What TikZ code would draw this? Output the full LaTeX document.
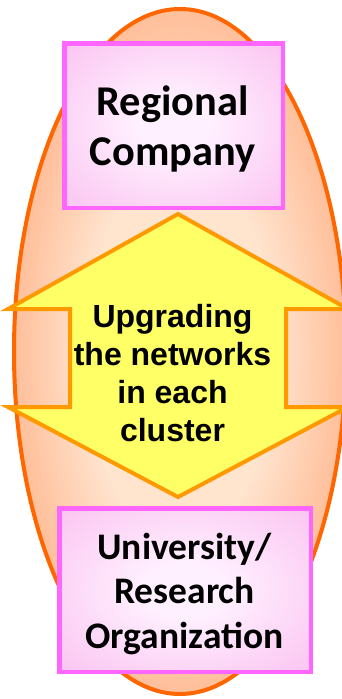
\documentclass[tikz,border=0pt]{standalone}
\usepackage{fontspec}
\newfontfamily\boxfont{Carlito}
\newfontfamily\arrowfont{Liberation Sans}
\usetikzlibrary{shapes.geometric}
\definecolor{ellborder}{HTML}{FF6600}
\definecolor{ellouter}{HTML}{FFA070}
\definecolor{ellinner}{HTML}{FFE4CE}
\definecolor{boxborder}{HTML}{FF66FF}
\definecolor{boxinner}{HTML}{FFF0FF}
\definecolor{boxouter}{HTML}{F79AE4}
\definecolor{arrowfill}{HTML}{FFFF66}
\definecolor{arrowborder}{HTML}{FF9900}
\pgfdeclareradialshading{boxglow}{\pgfpoint{0bp}{0bp}}{color(0bp)=(boxinner); color(8bp)=(boxinner); color(62bp)=(boxouter); color(72bp)=(boxouter)}
\pgfdeclareradialshading{ellglow}{\pgfpoint{0bp}{0bp}}{color(0bp)=(ellinner); color(14bp)=(ellinner); color(34bp)=(ellouter); color(50bp)=(ellouter)}
\tikzset{
  boxstyle/.style={draw=boxborder, line width=4.5pt, shading=boxglow, rectangle, inner sep=0pt},
  boxtext/.style 2 args={font=\boxfont\bfseries\fontsize{#1}{#2}\selectfont, align=center, inner sep=0pt, text=black},
  arrowtext/.style={font=\arrowfont\bfseries\fontsize{32}{38}\selectfont, align=center, inner sep=0pt, text=black},
}
\begin{document}
\begin{tikzpicture}[x=1pt, y=-1pt]
\useasboundingbox (0,0) rectangle (342,699);
\clip (0,0) rectangle (342,699);
% background ellipse
\shade[shading=ellglow] (180,351.5) ellipse [x radius=166, y radius=342.5];
\draw[ellborder, line width=4pt] (180,351.5) ellipse [x radius=166, y radius=342.5];
% double arrow
\draw[arrowborder, fill=arrowfill, line width=4pt, line join=miter]
  (178,214) -- (348,309) -- (286,309) -- (286,407) -- (348,407) -- (178,497)
  -- (8,407) -- (70,407) -- (70,309) -- (8,309) -- cycle;
\node[arrowtext] (mid) at (172.5,373) {Upgrading\\the networks\\in each\\cluster};
% boxes
\node[boxstyle, minimum width=218.5pt, minimum height=164.5pt] (top) at (173.5,125.5) {};
\node[boxtext={42.4}{50}] (toptext) at (172.5,128.5) {Regional\\Company};
\node[boxstyle, minimum width=251.5pt, minimum height=163.5pt] (bot) at (185,590) {};
\node[boxtext={37.5}{44.5}] (bottext) at (184.5,594) {University/\\Research\\Organization};
\end{tikzpicture}
\end{document}
